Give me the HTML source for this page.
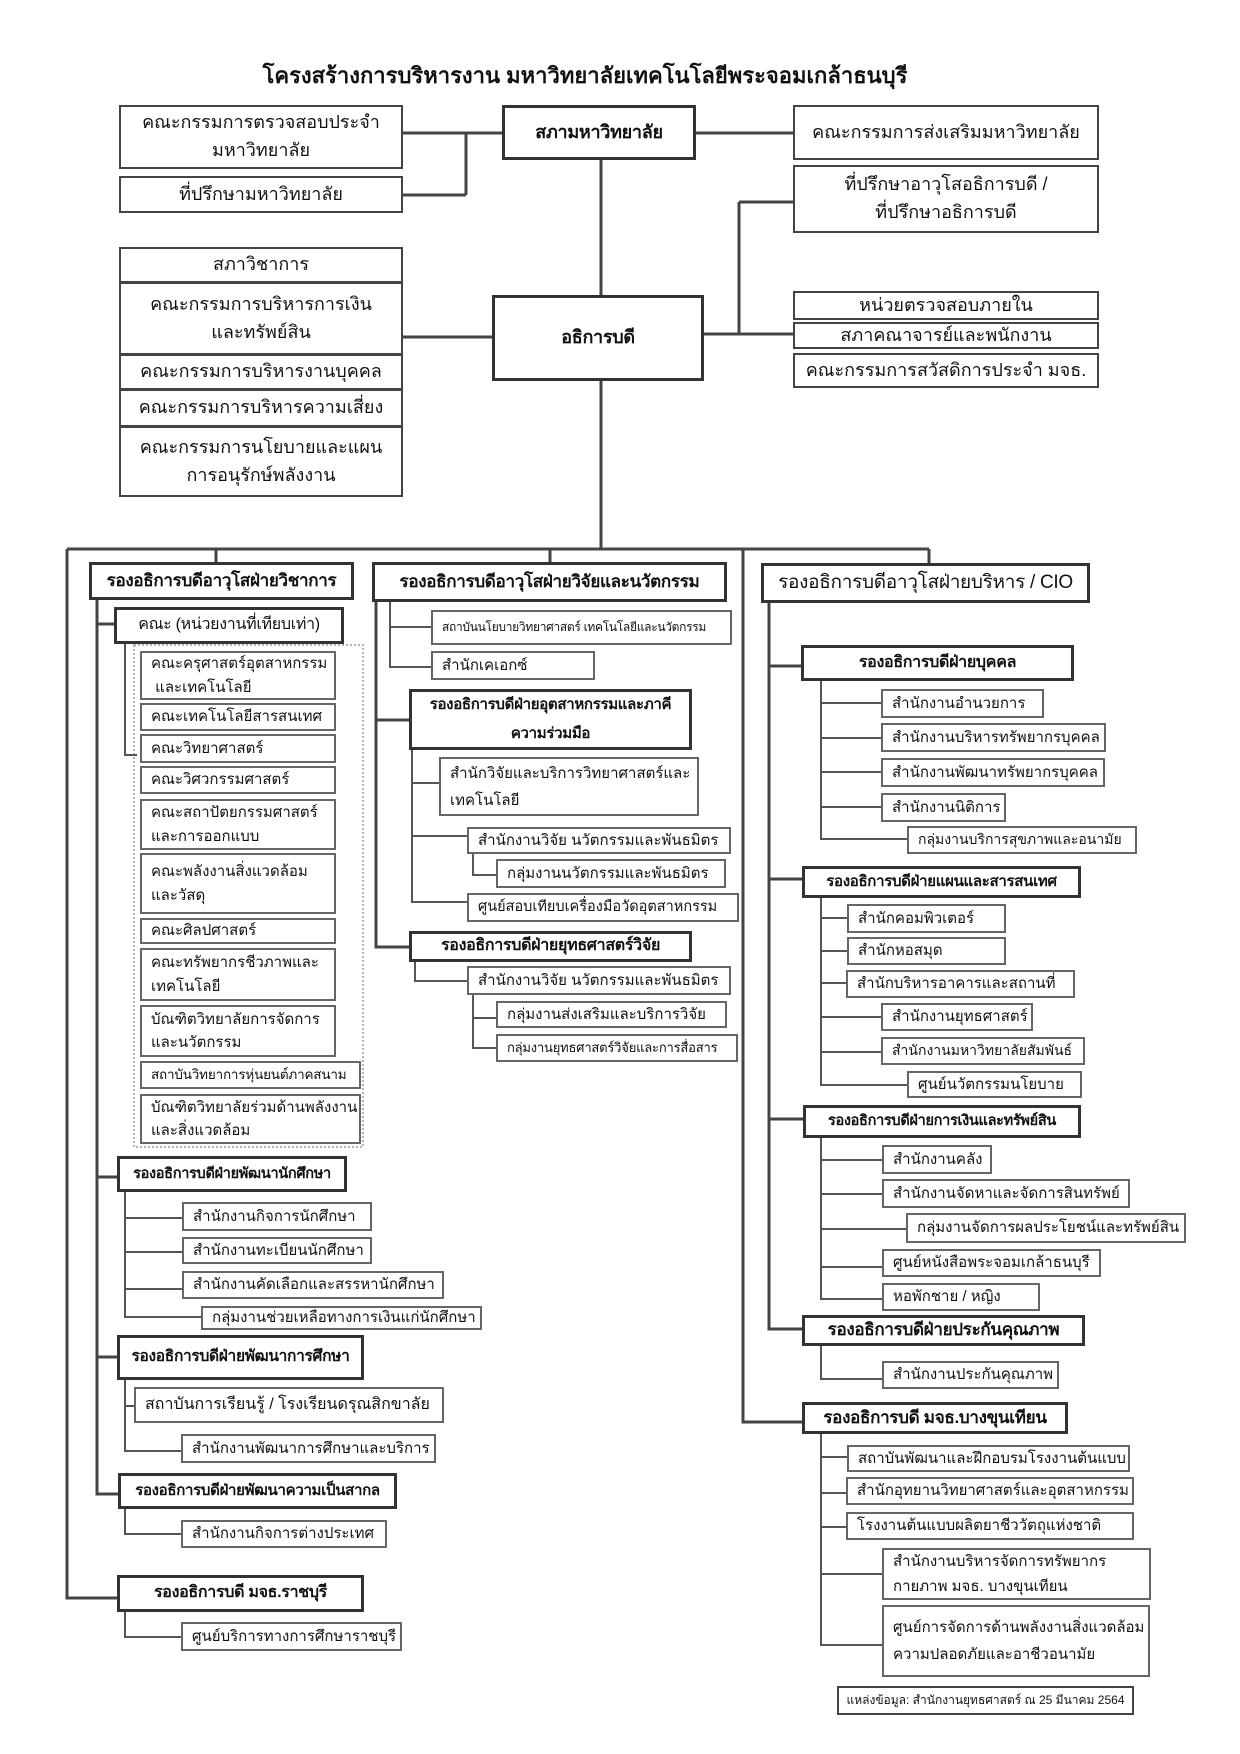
<!DOCTYPE html>
<html><head><meta charset="utf-8">
<style>
*{box-sizing:border-box;margin:0;padding:0}
body{width:1240px;height:1754px;background:#fff;position:relative;overflow:hidden;font-family:"Liberation Sans","DejaVu Sans",sans-serif;color:#111}
svg{position:absolute;left:0;top:0}
.x{position:absolute;display:flex;align-items:center;background:#fff;line-height:1.55;white-space:nowrap;overflow:hidden}
.b{border:3px solid #333;font-weight:bold;justify-content:center;text-align:center;font-size:16px;letter-spacing:-0.3px}
.c{border:2px solid #444;justify-content:center;text-align:center;font-size:18px}
.t{border:2px solid #666;padding-left:9px;font-size:15px}
.s{font-size:13.5px;letter-spacing:-0.2px}
.title{position:absolute;left:0;width:1170px;top:58px;text-align:center;font-weight:bold;font-size:22px}
</style></head><body>
<div class="title">โครงสร้างการบริหารงาน มหาวิทยาลัยเทคโนโลยีพระจอมเกล้าธนบุรี</div>
<svg width="1240" height="1754">
<g stroke="#444" stroke-width="3" fill="none">
<path d="M403,133H502M466,133V195M403,195H466M696,133H793M601,160V295M403,337H492M704,334H793M739,202V334M739,202H793M601,381V549M67,549H929M216,549V562M550,549V562M929,549V563M67,549V1598H117M97,600V1494H118M97,624H114M97,1177H117M97,1357H117M376,602V947H409M376,720H409M743,549V1422H802M769,603V1329H802M769,666H801M769,879H802M769,1119H803"/>
</g>
<g stroke="#555" stroke-width="2" fill="none">
<path d="M125,644V755H137M390,602V667H431M390,627H431M412,750V902H467M412,783H439M412,836H467M473,854V875H496M415,962V981H467M473,995V1048H496M473,1018H496M125,1192V1317H201M125,1218H182M125,1252H182M125,1289H182M125,1380V1451H181M125,1406H134M125,1509V1534H181M125,1612V1637H181M821,681V839H907M821,703H881M821,738H881M821,772H881M821,807H881M821,898V1085H907M821,918H847M821,951H847M821,983H847M821,1017H881M821,1052H881M821,1138V1299H882M821,1160H882M821,1194H882M821,1267H882M821,1229H906M821,1346V1379H882M821,1434V1645H882M821,1457H847M821,1493H847M821,1527H847M821,1574H882"/>
</g>
<rect x="134" y="645" width="229" height="502" fill="none" stroke="#666" stroke-width="1" stroke-dasharray="2,2"/>
</svg>

<div class="x c" style="left:119px;top:105px;width:284px;height:64px">คณะกรรมการตรวจสอบประจำ<br>มหาวิทยาลัย</div>
<div class="x c" style="left:119px;top:176px;width:284px;height:37px">ที่ปรึกษามหาวิทยาลัย</div>
<div class="x b" style="left:502px;top:105px;width:194px;height:55px;font-size:18px">สภามหาวิทยาลัย</div>
<div class="x c" style="left:793px;top:105px;width:306px;height:55px">คณะกรรมการส่งเสริมมหาวิทยาลัย</div>
<div class="x c" style="left:793px;top:165px;width:306px;height:68px">ที่ปรึกษาอาวุโสอธิการบดี /<br>ที่ปรึกษาอธิการบดี</div>

<div class="x c" style="left:119px;top:247px;width:284px;height:36px">สภาวิชาการ</div>
<div class="x c" style="left:119px;top:282px;width:284px;height:73px">คณะกรรมการบริหารการเงิน<br>และทรัพย์สิน</div>
<div class="x c" style="left:119px;top:354px;width:284px;height:36px">คณะกรรมการบริหารงานบุคคล</div>
<div class="x c" style="left:119px;top:389px;width:284px;height:38px">คณะกรรมการบริหารความเสี่ยง</div>
<div class="x c" style="left:119px;top:426px;width:284px;height:71px">คณะกรรมการนโยบายและแผน<br>การอนุรักษ์พลังงาน</div>
<div class="x b" style="left:492px;top:295px;width:212px;height:86px;font-size:18px">อธิการบดี</div>
<div class="x c" style="left:793px;top:291px;width:306px;height:29px">หน่วยตรวจสอบภายใน</div>
<div class="x c" style="left:793px;top:322px;width:306px;height:27px">สภาคณาจารย์และพนักงาน</div>
<div class="x c" style="left:793px;top:353px;width:306px;height:35px">คณะกรรมการสวัสดิการประจำ มจธ.</div>

<div class="x b" style="left:89px;top:562px;width:265px;height:38px;font-size:17px">รองอธิการบดีอาวุโสฝ่ายวิชาการ</div>
<div class="x b" style="left:372px;top:562px;width:355px;height:40px;font-size:17px">รองอธิการบดีอาวุโสฝ่ายวิจัยและนวัตกรรม</div>
<div class="x b" style="left:761px;top:563px;width:329px;height:40px;font-size:19px;font-weight:normal">รองอธิการบดีอาวุโสฝ่ายบริหาร / CIO</div>

<div class="x b" style="left:114px;top:607px;width:230px;height:37px;font-weight:normal;font-size:16px">คณะ (หน่วยงานที่เทียบเท่า)</div>
<div class="x t" style="left:140px;top:651px;width:196px;height:49px">คณะครุศาสตร์อุตสาหกรรม<br>&nbsp;และเทคโนโลยี</div>
<div class="x t" style="left:140px;top:703px;width:196px;height:28px">คณะเทคโนโลยีสารสนเทศ</div>
<div class="x t" style="left:140px;top:734px;width:196px;height:29px">คณะวิทยาศาสตร์</div>
<div class="x t" style="left:140px;top:766px;width:196px;height:28px">คณะวิศวกรรมศาสตร์</div>
<div class="x t" style="left:140px;top:799px;width:196px;height:51px">คณะสถาปัตยกรรมศาสตร์<br>และการออกแบบ</div>
<div class="x t" style="left:140px;top:853px;width:196px;height:61px">คณะพลังงานสิ่งแวดล้อม<br>และวัสดุ</div>
<div class="x t" style="left:140px;top:918px;width:196px;height:26px">คณะศิลปศาสตร์</div>
<div class="x t" style="left:140px;top:948px;width:196px;height:53px">คณะทรัพยากรชีวภาพและ<br>เทคโนโลยี</div>
<div class="x t" style="left:140px;top:1005px;width:196px;height:52px">บัณฑิตวิทยาลัยการจัดการ<br>และนวัตกรรม</div>
<div class="x t s" style="left:140px;top:1061px;width:221px;height:28px">สถาบันวิทยาการหุ่นยนต์ภาคสนาม</div>
<div class="x t" style="left:140px;top:1094px;width:221px;height:50px">บัณฑิตวิทยาลัยร่วมด้านพลังงาน<br>และสิ่งแวดล้อม</div>

<div class="x t" style="left:431px;top:610px;width:301px;height:35px;font-size:12px;letter-spacing:-0.3px">สถาบันนโยบายวิทยาศาสตร์ เทคโนโลยีและนวัตกรรม</div>
<div class="x t" style="left:431px;top:651px;width:164px;height:29px">สำนักเคเอกซ์</div>
<div class="x b" style="left:409px;top:689px;width:283px;height:61px;line-height:1.9;font-size:15px">รองอธิการบดีฝ่ายอุตสาหกรรมและภาคี<br>ความร่วมมือ</div>
<div class="x t" style="left:439px;top:757px;width:260px;height:59px;line-height:1.8">สำนักวิจัยและบริการวิทยาศาสตร์และ<br>เทคโนโลยี</div>
<div class="x t" style="left:467px;top:827px;width:264px;height:27px">สำนักงานวิจัย นวัตกรรมและพันธมิตร</div>
<div class="x t" style="left:496px;top:859px;width:230px;height:29px">กลุ่มงานนวัตกรรมและพันธมิตร</div>
<div class="x t" style="left:467px;top:893px;width:272px;height:29px;font-size:14.5px">ศูนย์สอบเทียบเครื่องมือวัดอุตสาหกรรม</div>
<div class="x b" style="left:409px;top:931px;width:283px;height:31px">รองอธิการบดีฝ่ายยุทธศาสตร์วิจัย</div>
<div class="x t" style="left:467px;top:966px;width:264px;height:29px">สำนักงานวิจัย นวัตกรรมและพันธมิตร</div>
<div class="x t" style="left:496px;top:1001px;width:231px;height:27px">กลุ่มงานส่งเสริมและบริการวิจัย</div>
<div class="x t s" style="left:496px;top:1034px;width:242px;height:28px;font-size:13px">กลุ่มงานยุทธศาสตร์วิจัยและการสื่อสาร</div>

<div class="x b" style="left:117px;top:1156px;width:230px;height:36px;font-size:14.5px">รองอธิการบดีฝ่ายพัฒนานักศึกษา</div>
<div class="x t" style="left:182px;top:1202px;width:190px;height:29px">สำนักงานกิจการนักศึกษา</div>
<div class="x t" style="left:182px;top:1237px;width:190px;height:27px">สำนักงานทะเบียนนักศึกษา</div>
<div class="x t" style="left:182px;top:1271px;width:262px;height:28px">สำนักงานคัดเลือกและสรรหานักศึกษา</div>
<div class="x t" style="left:201px;top:1306px;width:281px;height:24px">กลุ่มงานช่วยเหลือทางการเงินแก่นักศึกษา</div>
<div class="x b" style="left:117px;top:1335px;width:247px;height:45px;font-size:15.5px">รองอธิการบดีฝ่ายพัฒนาการศึกษา</div>
<div class="x t" style="left:134px;top:1387px;width:310px;height:36px;font-size:16px">สถาบันการเรียนรู้ / โรงเรียนดรุณสิกขาลัย</div>
<div class="x t" style="left:181px;top:1434px;width:255px;height:29px">สำนักงานพัฒนาการศึกษาและบริการ</div>
<div class="x b" style="left:118px;top:1473px;width:279px;height:36px;font-size:15px">รองอธิการบดีฝ่ายพัฒนาความเป็นสากล</div>
<div class="x t" style="left:181px;top:1520px;width:206px;height:28px">สำนักงานกิจการต่างประเทศ</div>
<div class="x b" style="left:117px;top:1575px;width:247px;height:37px">รองอธิการบดี มจธ.ราชบุรี</div>
<div class="x t" style="left:181px;top:1622px;width:221px;height:29px">ศูนย์บริการทางการศึกษาราชบุรี</div>

<div class="x b" style="left:801px;top:645px;width:273px;height:36px">รองอธิการบดีฝ่ายบุคคล</div>
<div class="x t" style="left:881px;top:689px;width:163px;height:29px">สำนักงานอำนวยการ</div>
<div class="x t" style="left:881px;top:723px;width:225px;height:29px">สำนักงานบริหารทรัพยากรบุคคล</div>
<div class="x t" style="left:881px;top:758px;width:224px;height:29px">สำนักงานพัฒนาทรัพยากรบุคคล</div>
<div class="x t" style="left:881px;top:793px;width:125px;height:29px">สำนักงานนิติการ</div>
<div class="x t" style="left:907px;top:826px;width:230px;height:28px;font-size:14px">กลุ่มงานบริการสุขภาพและอนามัย</div>
<div class="x b" style="left:802px;top:866px;width:279px;height:32px;font-size:15px">รองอธิการบดีฝ่ายแผนและสารสนเทศ</div>
<div class="x t" style="left:847px;top:904px;width:159px;height:29px">สำนักคอมพิวเตอร์</div>
<div class="x t" style="left:847px;top:937px;width:159px;height:28px">สำนักหอสมุด</div>
<div class="x t" style="left:846px;top:970px;width:229px;height:28px">สำนักบริหารอาคารและสถานที่</div>
<div class="x t" style="left:881px;top:1003px;width:152px;height:28px">สำนักงานยุทธศาสตร์</div>
<div class="x t" style="left:881px;top:1037px;width:204px;height:28px;font-size:14px">สำนักงานมหาวิทยาลัยสัมพันธ์</div>
<div class="x t" style="left:907px;top:1071px;width:175px;height:27px">ศูนย์นวัตกรรมนโยบาย</div>
<div class="x b" style="left:803px;top:1105px;width:278px;height:33px;font-size:14.5px">รองอธิการบดีฝ่ายการเงินและทรัพย์สิน</div>
<div class="x t" style="left:882px;top:1145px;width:110px;height:29px">สำนักงานคลัง</div>
<div class="x t" style="left:882px;top:1179px;width:248px;height:29px">สำนักงานจัดหาและจัดการสินทรัพย์</div>
<div class="x t" style="left:906px;top:1213px;width:280px;height:30px">กลุ่มงานจัดการผลประโยชน์และทรัพย์สิน</div>
<div class="x t" style="left:882px;top:1249px;width:219px;height:28px">ศูนย์หนังสือพระจอมเกล้าธนบุรี</div>
<div class="x t" style="left:882px;top:1283px;width:158px;height:28px">หอพักชาย / หญิง</div>
<div class="x b" style="left:802px;top:1315px;width:283px;height:31px;font-size:17px">รองอธิการบดีฝ่ายประกันคุณภาพ</div>
<div class="x t" style="left:882px;top:1361px;width:177px;height:28px">สำนักงานประกันคุณภาพ</div>
<div class="x b" style="left:802px;top:1402px;width:266px;height:32px;font-size:17px">รองอธิการบดี มจธ.บางขุนเทียน</div>
<div class="x t" style="left:847px;top:1445px;width:283px;height:27px">สถาบันพัฒนาและฝึกอบรมโรงงานต้นแบบ</div>
<div class="x t" style="left:846px;top:1477px;width:288px;height:28px">สำนักอุทยานวิทยาศาสตร์และอุตสาหกรรม</div>
<div class="x t" style="left:846px;top:1512px;width:288px;height:28px">โรงงานต้นแบบผลิตยาชีววัตถุแห่งชาติ</div>
<div class="x t" style="left:882px;top:1548px;width:269px;height:52px;line-height:1.7">สำนักงานบริหารจัดการทรัพยากร<br>กายภาพ มจธ. บางขุนเทียน</div>
<div class="x t" style="left:882px;top:1605px;width:268px;height:72px;line-height:1.8">ศูนย์การจัดการด้านพลังงานสิ่งแวดล้อม<br>ความปลอดภัยและอาชีวอนามัย</div>
<div class="x c" style="left:837px;top:1686px;width:297px;height:29px;font-size:12px">แหล่งข้อมูล: สำนักงานยุทธศาสตร์ ณ 25 มีนาคม 2564</div>
</body></html>
